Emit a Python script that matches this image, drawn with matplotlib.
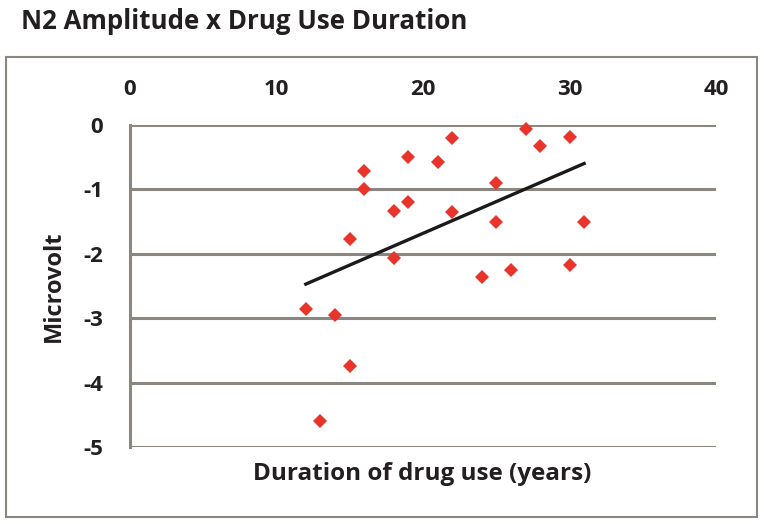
import matplotlib
matplotlib.use("Agg")
import matplotlib.pyplot as plt
import numpy as np
from matplotlib.patches import Rectangle

plt.rcParams['font.family'] = ['Open Sans', 'DejaVu Sans']

duration = [12, 13, 14, 15, 15, 16, 16, 18, 18, 19, 19, 21, 22, 22, 24, 25, 25, 26, 27, 28, 30, 30, 31]
microvolt = [-2.86, -4.60, -2.95, -3.74, -1.77, -0.71, -0.99, -1.34, -2.07, -0.50, -1.20,
             -0.57, -0.20, -1.35, -2.36, -0.90, -1.51, -2.25, -0.06, -0.33, -0.19, -2.17, -1.51]
x_ticks = [0, 10, 20, 30, 40]
y_ticks = [0, -1, -2, -3, -4, -5]

title = "N2 Amplitude x Drug Use Duration"
xlabel = "Duration of drug use (years)"
ylabel = "Microvolt"

W, H = 764, 524
fig = plt.figure(figsize=(W / 100, H / 100), dpi=100)
fig.patch.set_facecolor('white')

# chart border
fig.add_artist(Rectangle((6 / W, 1 - 517 / H), (757 - 6) / W, (517 - 57) / H,
                         transform=fig.transFigure, fill=False, edgecolor='#8c8680', linewidth=1.5))

ax = fig.add_axes([130 / W, 1 - 447 / H, (716 - 130) / W, (447 - 125) / H])
ax.set_xlim(0, 40)
ax.set_ylim(-5, 0)
ax.set_xticks(x_ticks)
ax.set_yticks(y_ticks)
ax.set_xticklabels([str(t) for t in x_ticks])
ax.set_yticklabels([str(t) for t in y_ticks])
ax.xaxis.tick_top()
ax.tick_params(axis='both', length=0, labelsize=16)
ax.tick_params(axis='x', pad=18)
ax.tick_params(axis='y', pad=19.5)
for lab in ax.get_xticklabels() + ax.get_yticklabels():
    lab.set_fontweight('bold')
    lab.set_color('#231f20')

for s in ['top', 'right', 'bottom']:
    ax.spines[s].set_visible(False)
ax.spines['left'].set_color('#8c8680')
ax.spines['left'].set_linewidth(2.2)

ax.yaxis.grid(True, color='#8c8680', linewidth=2.2)
ax.set_axisbelow(True)

ax.plot(duration, microvolt, linestyle='none', marker='D', markersize=7.5,
        color='#e8342b', markeredgewidth=0, zorder=3, clip_on=False)

coef = np.polyfit(duration, microvolt, 1)
xs = np.array([min(duration), max(duration)])
ax.plot(xs, np.polyval(coef, xs), color='#1a1a1a', linewidth=2.4, zorder=4)

ax.set_xlabel(xlabel, fontsize=17.5, fontweight='bold', color='#231f20', va='center')
ax.xaxis.set_label_coords(0.498, (447 - 474) / 322)
ax.set_ylabel(ylabel, fontsize=17, fontweight='bold', color='#231f20', va='center')
ax.yaxis.set_label_coords((54 - 130) / 586, 0.5)

fig.text(21 / W, 1 - 29 / H, title, fontsize=18.6, fontweight='bold', color='#231f20',
         ha='left', va='baseline')

fig.savefig('out.png', dpi=100)
